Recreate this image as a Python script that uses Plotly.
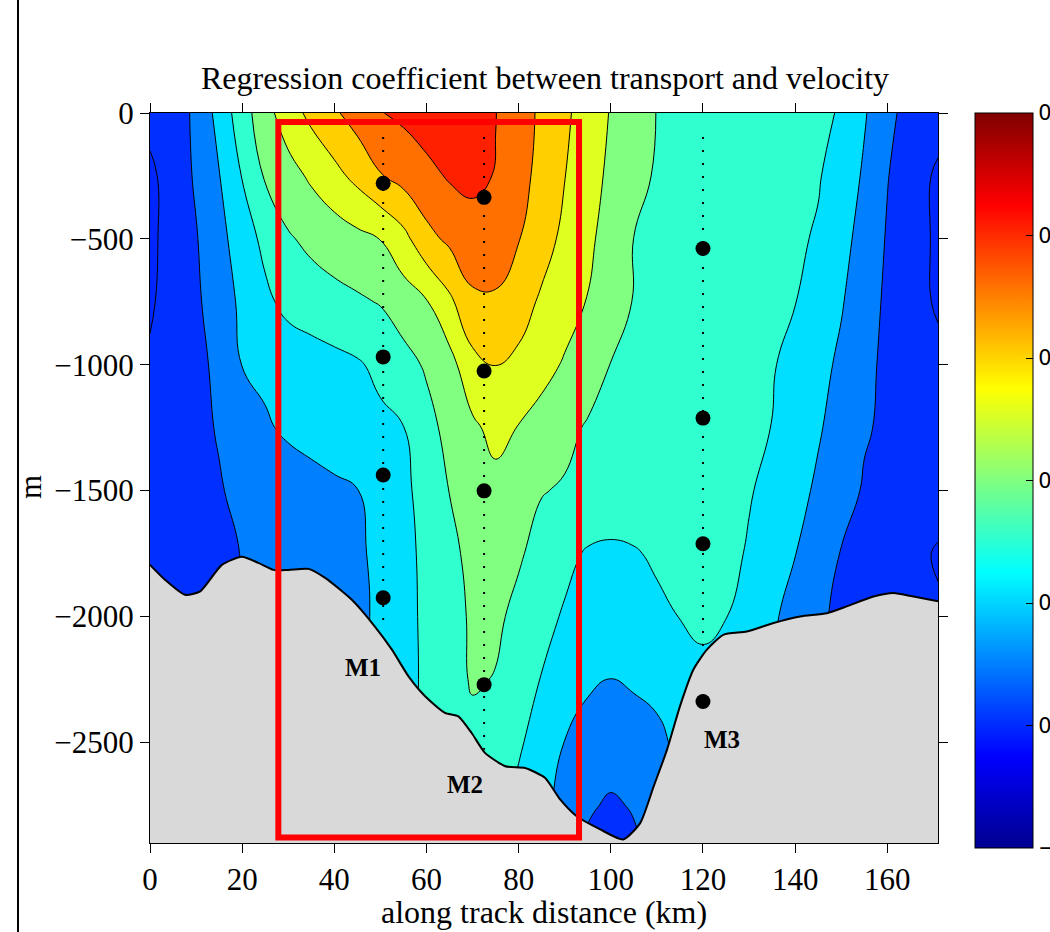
import plotly.graph_objects as go

# ---------------- data ----------------
DIST = [0, 5, 10, 15, 20, 25, 30, 35, 40, 45, 50, 55, 60, 65, 70, 75, 80, 85, 90, 95,
        100, 105, 110, 115, 120, 125, 130, 135, 140, 145, 150, 155, 160, 165, 171]
DEPTH = [0, 250, 500, 750, 1000, 1250, 1500, 1750, 2000, 2250, 2500, 2750, 2900]

Z_0000 = [0.015, 0.032, 0.057, 0.118, 0.177, 0.232, 0.277, 0.313, 0.343, 0.371,
          0.398, 0.41, 0.425, 0.435, 0.43, 0.401, 0.372, 0.341, 0.309, 0.278,
          0.247, 0.221, 0.199, 0.192, 0.186, 0.18, 0.174, 0.168, 0.162, 0.155,
          0.148, 0.105, 0.061, 0.035, 0.02]
Z_0250 = [-0.01, 0.022, 0.056, 0.098, 0.152, 0.205, 0.231, 0.258, 0.285, 0.314,
          0.347, 0.367, 0.386, 0.405, 0.41, 0.398, 0.367, 0.335, 0.301, 0.27,
          0.24, 0.212, 0.196, 0.19, 0.184, 0.178, 0.172, 0.166, 0.159, 0.153,
          0.132, 0.093, 0.052, 0.024, -0.008]
Z_0500 = [-0.01, 0.019, 0.047, 0.085, 0.125, 0.163, 0.195, 0.211, 0.224, 0.237,
          0.251, 0.285, 0.335, 0.36, 0.382, 0.37, 0.352, 0.319, 0.289, 0.26,
          0.23, 0.1995, 0.194, 0.187, 0.181, 0.175, 0.168, 0.162, 0.156, 0.146,
          0.116, 0.082, 0.046, 0.021, -0.008]
Z_0750 = [-0.005, 0.017, 0.042, 0.075, 0.11, 0.139, 0.165, 0.176, 0.185, 0.193,
          0.203, 0.225, 0.247, 0.29, 0.34, 0.345, 0.32, 0.293, 0.271, 0.248,
          0.22, 0.198, 0.191, 0.184, 0.177, 0.171, 0.164, 0.157, 0.151, 0.127,
          0.104, 0.071, 0.042, 0.019, -0.006]
Z_1000 = [0.005, 0.022, 0.036, 0.062, 0.101, 0.109, 0.118, 0.127, 0.136, 0.145,
          0.161, 0.183, 0.206, 0.233, 0.285, 0.302, 0.29, 0.267, 0.245, 0.221,
          0.199, 0.193, 0.186, 0.179, 0.172, 0.166, 0.159, 0.153, 0.1375, 0.115,
          0.091, 0.062, 0.04, 0.028, 0.012]
Z_1250 = [0.012, 0.027, 0.04, 0.053, 0.074, 0.095, 0.107, 0.115, 0.123, 0.132,
          0.14, 0.149, 0.184, 0.215, 0.241, 0.265, 0.248, 0.23, 0.211, 0.196,
          0.192, 0.186, 0.18, 0.174, 0.168, 0.162, 0.156, 0.1495, 0.127, 0.105,
          0.08, 0.054, 0.043, 0.032, 0.015]
Z_1500 = [0.015, 0.028, 0.038, 0.047, 0.06, 0.07, 0.078, 0.085, 0.092, 0.099,
          0.12, 0.14, 0.167, 0.201, 0.225, 0.235, 0.225, 0.202, 0.196, 0.19,
          0.185, 0.18, 0.174, 0.169, 0.164, 0.158, 0.153, 0.1385, 0.116, 0.092,
          0.067, 0.046, 0.035, 0.028, 0.018]
Z_1750 = [0.015, 0.025, 0.033, 0.042, 0.051, 0.06, 0.068, 0.077, 0.086, 0.094,
          0.109, 0.135, 0.162, 0.189, 0.212, 0.218, 0.205, 0.185, 0.163, 0.145,
          0.14, 0.146, 0.157, 0.165, 0.17, 0.162, 0.146, 0.123, 0.101, 0.075,
          0.048, 0.035, 0.025, 0.012, -0.004]
Z_2000 = [0.015, 0.025, 0.033, 0.042, 0.051, 0.06, 0.068, 0.077, 0.085, 0.093,
          0.106, 0.134, 0.16, 0.184, 0.206, 0.208, 0.189, 0.165, 0.145, 0.13,
          0.125, 0.13, 0.14, 0.151, 0.158, 0.151, 0.129, 0.107, 0.083, 0.058,
          0.04, 0.03, 0.02, 0.01, 0.005]
Z_2250 = [0.015, 0.025, 0.033, 0.042, 0.051, 0.06, 0.068, 0.077, 0.085, 0.095,
          0.11, 0.135, 0.158, 0.18, 0.205, 0.198, 0.172, 0.148, 0.125, 0.108,
          0.099, 0.108, 0.118, 0.13, 0.14, 0.13, 0.115, 0.099, 0.08, 0.055,
          0.04, 0.03, 0.02, 0.01, 0.005]
Z_2500 = [0.015, 0.025, 0.033, 0.042, 0.051, 0.06, 0.068, 0.077, 0.085, 0.095,
          0.11, 0.135, 0.16, 0.175, 0.185, 0.17, 0.155, 0.133, 0.099, 0.08,
          0.07, 0.072, 0.085, 0.115, 0.11, 0.11, 0.101, 0.09, 0.075, 0.055,
          0.04, 0.03, 0.02, 0.01, 0.005]
Z_2750 = [0.015, 0.025, 0.033, 0.042, 0.051, 0.06, 0.068, 0.077, 0.085, 0.095,
          0.11, 0.135, 0.16, 0.175, 0.18, 0.165, 0.14, 0.115, 0.08, 0.055,
          0.045, 0.053, 0.07, 0.105, 0.105, 0.098, 0.09, 0.08, 0.07, 0.055,
          0.04, 0.03, 0.02, 0.01, 0.005]
Z_2900 = [0.015, 0.025, 0.033, 0.042, 0.051, 0.06, 0.068, 0.077, 0.085, 0.095,
          0.11, 0.135, 0.16, 0.175, 0.18, 0.165, 0.14, 0.11, 0.07, 0.045,
          0.035, 0.045, 0.065, 0.1, 0.105, 0.098, 0.09, 0.08, 0.07, 0.055,
          0.04, 0.03, 0.02, 0.01, 0.005]
Z = [Z_0000, Z_0250, Z_0500, Z_0750, Z_1000, Z_1250, Z_1500,
     Z_1750, Z_2000, Z_2250, Z_2500, Z_2750, Z_2900]

# contour levels
LEVEL_START, LEVEL_END, LEVEL_STEP = -0.05, 0.45, 0.05
# fill colour of each region: below first level, then one band above each level
BAND_COLORS = ['#0020ff', '#0026ff', '#0030ff', '#0080ff', '#00dfff', '#30ffcf',
               '#80ff80', '#dfff20', '#ffcf00', '#ff7000', '#ff2000', '#cf0000']

# bathymetry (km, m)
BOT_X = [0, 3.3, 7.6, 10.9, 15.6, 19.9, 23.5, 26.8, 30, 34.4, 38, 43.8, 48.8, 52.5,
         56.1, 59.7, 64, 66.9, 69.8, 72.7, 77.1, 81.4, 85.7, 89, 92.6, 97.7, 102.7,
         106.4, 109.3, 112.2, 115, 117.9, 120.8, 124.4, 129.5, 135.3, 141.1, 146.9,
         151.2, 157, 161.3, 165.7, 171]
BOT_D = [1795, 1855, 1914, 1900, 1795, 1763, 1787, 1815, 1815, 1811, 1847, 1934, 2040,
         2132, 2238, 2317, 2383, 2397, 2463, 2542, 2595, 2602, 2641, 2727, 2794, 2846,
         2886, 2820, 2675, 2529, 2357, 2212, 2133, 2073, 2060, 2026, 2000, 1987, 1960,
         1921, 1907, 1921, 1940]

# moorings
MOORING_NAMES = ['M1', 'M2', 'M3']
MOORING_KM = [50.6, 72.5, 120.0]
INSTRUMENT_DEPTHS = [[279, 969, 1438, 1926],
                     [335, 1025, 1501, 2271],
                     [538, 1212, 1711, 2338]]
LINE_TOP = [95, 95, 95]
LINE_BOTTOM = [2030, 2530, 2120]
LABEL_KM = [46.2, 68.4, 124.2]
LABEL_DEPTH = [2204, 2668, 2489]

# highlighted box (km, m)
BOX_KM = [27.85, 93.1]
BOX_DEPTH = [36, 2878]

# colour bar
CB_MIN, CB_MAX = -0.1, 0.5
CB_TICKS = [-0.1, 0, 0.1, 0.2, 0.3, 0.4, 0.5]
CB_TICKTEXT = ['\u22120.1', '0', '0.1', '0.2', '0.3', '0.4', '0.5']

X_TICKS = [0, 20, 40, 60, 80, 100, 120, 140, 160]
Y_TICKS = [0, -500, -1000, -1500, -2000, -2500]
X_RANGE = [0, 171]
AXIS_DEPTH = 2900

# ---------------- layout geometry (pixels) ----------------
W, H = 1050, 932
PL, PR, PT, PB = 150, 938, 113, 843
PW, PH = PR - PL, PB - PT


def px(xp):
    return (xp - PL) / PW


def py(yp):
    return (PB - yp) / PH


SERIF = 'Liberation Serif'

n_lev = len(BAND_COLORS) - 1
band_scale = [[k / n_lev, c] for k, c in enumerate(BAND_COLORS)]
JET = [[0, '#00008f'], [0.125, '#0000ff'], [0.375, '#00ffff'],
       [0.625, '#ffff00'], [0.875, '#ff0000'], [1, '#800000']]

fig = go.Figure()

fig.add_trace(go.Contour(
    x=DIST, y=[-d for d in DEPTH], z=Z,
    autocontour=False,
    contours=dict(start=LEVEL_START, end=LEVEL_END, size=LEVEL_STEP,
                  coloring='fill', showlines=True),
    colorscale=band_scale,
    line=dict(color='black', width=1, smoothing=1.3),
    showscale=False, hoverinfo='skip'))

# bathymetry: baseline + filled seabed
fig.add_trace(go.Scatter(x=BOT_X, y=[-AXIS_DEPTH] * len(BOT_X), mode='lines',
                         line=dict(width=0, color='#d9d9d9'), hoverinfo='skip'))
fig.add_trace(go.Scatter(x=BOT_X, y=[-d for d in BOT_D], mode='lines',
                         fill='tonexty', fillcolor='#d9d9d9',
                         line=dict(color='black', width=2, shape='spline', smoothing=0.6),
                         hoverinfo='skip'))

for i, name in enumerate(MOORING_NAMES):
    fig.add_trace(go.Scatter(x=[MOORING_KM[i], MOORING_KM[i]],
                             y=[-LINE_TOP[i], -LINE_BOTTOM[i]], mode='lines',
                             line=dict(color='black', width=2, dash='2px,11px'),
                             hoverinfo='skip'))
    fig.add_trace(go.Scatter(x=[MOORING_KM[i]] * len(INSTRUMENT_DEPTHS[i]),
                             y=[-d for d in INSTRUMENT_DEPTHS[i]], mode='markers',
                             marker=dict(color='black', size=15), hoverinfo='skip'))
    fig.add_annotation(x=LABEL_KM[i], y=-LABEL_DEPTH[i], text='<b>%s</b>' % name,
                       showarrow=False, font=dict(family=SERIF, size=25, color='black'))

# dummy trace providing continuous jet colour bar
fig.add_trace(go.Scatter(
    x=[DIST[0]], y=[-DEPTH[0]], mode='markers',
    marker=dict(size=1, opacity=0, color=[CB_MIN], colorscale=JET,
                cmin=CB_MIN, cmax=CB_MAX, showscale=True,
                colorbar=dict(x=px(975), xanchor='left', xpad=0,
                              y=1, yanchor='top', ypad=0,
                              len=735, lenmode='pixels',
                              thickness=58, thicknessmode='pixels',
                              outlinecolor='black', outlinewidth=1,
                              tickmode='array', tickvals=CB_TICKS, ticktext=CB_TICKTEXT,
                              ticks='inside', ticklen=7, tickcolor='black',
                              tickfont=dict(family='DejaVu Sans', size=21, color='black'))),
    hoverinfo='skip'))

shapes = [
    dict(type='rect', xref='x', yref='y', x0=BOX_KM[0], x1=BOX_KM[1],
         y0=-BOX_DEPTH[1], y1=-BOX_DEPTH[0], line=dict(color='#ff0000', width=6)),
    dict(type='line', xref='paper', yref='paper', x0=px(18), x1=px(18),
         y0=py(H), y1=py(0), line=dict(color='black', width=2)),
]
# left-side colour bar ticks
for v in CB_TICKS[1:-1]:
    yp = PT + (CB_MAX - v) / (CB_MAX - CB_MIN) * 735
    shapes.append(dict(type='line', xref='paper', yref='paper', x0=px(975), x1=px(982),
                       y0=py(yp), y1=py(yp), line=dict(color='black', width=1)))

fig.update_layout(
    width=W, height=H,
    margin=dict(l=PL, r=W - PR, t=PT, b=H - PB, autoexpand=False),
    paper_bgcolor='white', plot_bgcolor='white',
    showlegend=False,
    shapes=shapes,
    xaxis=dict(range=X_RANGE, tickvals=X_TICKS, ticks='outside', ticklen=9,
               tickcolor='black', showline=True, linecolor='black', linewidth=1,
               mirror='ticks', showgrid=False, zeroline=False,
               tickfont=dict(family=SERIF, size=31, color='black')),
    yaxis=dict(range=[-AXIS_DEPTH, 0], tickvals=Y_TICKS, ticks='outside', ticklen=9,
               tickcolor='black', showline=True, linecolor='black', linewidth=1,
               mirror='ticks', showgrid=False, zeroline=False,
               tickfont=dict(family=SERIF, size=31, color='black')),
)

fig.add_annotation(xref='paper', yref='paper', x=px(545), y=py(78),
                   text='Regression coefficient between transport and velocity',
                   showarrow=False, xanchor='center', yanchor='middle',
                   font=dict(family=SERIF, size=32, color='black'))
fig.add_annotation(xref='paper', yref='paper', x=px(544), y=py(912),
                   text='along track distance (km)', showarrow=False,
                   xanchor='center', yanchor='middle',
                   font=dict(family=SERIF, size=32, color='black'))
fig.add_annotation(xref='paper', yref='paper', x=px(30), y=py(487), text='m',
                   textangle=-90, showarrow=False, xanchor='center', yanchor='middle',
                   font=dict(family=SERIF, size=31, color='black'))

fig.write_html('out.html')
